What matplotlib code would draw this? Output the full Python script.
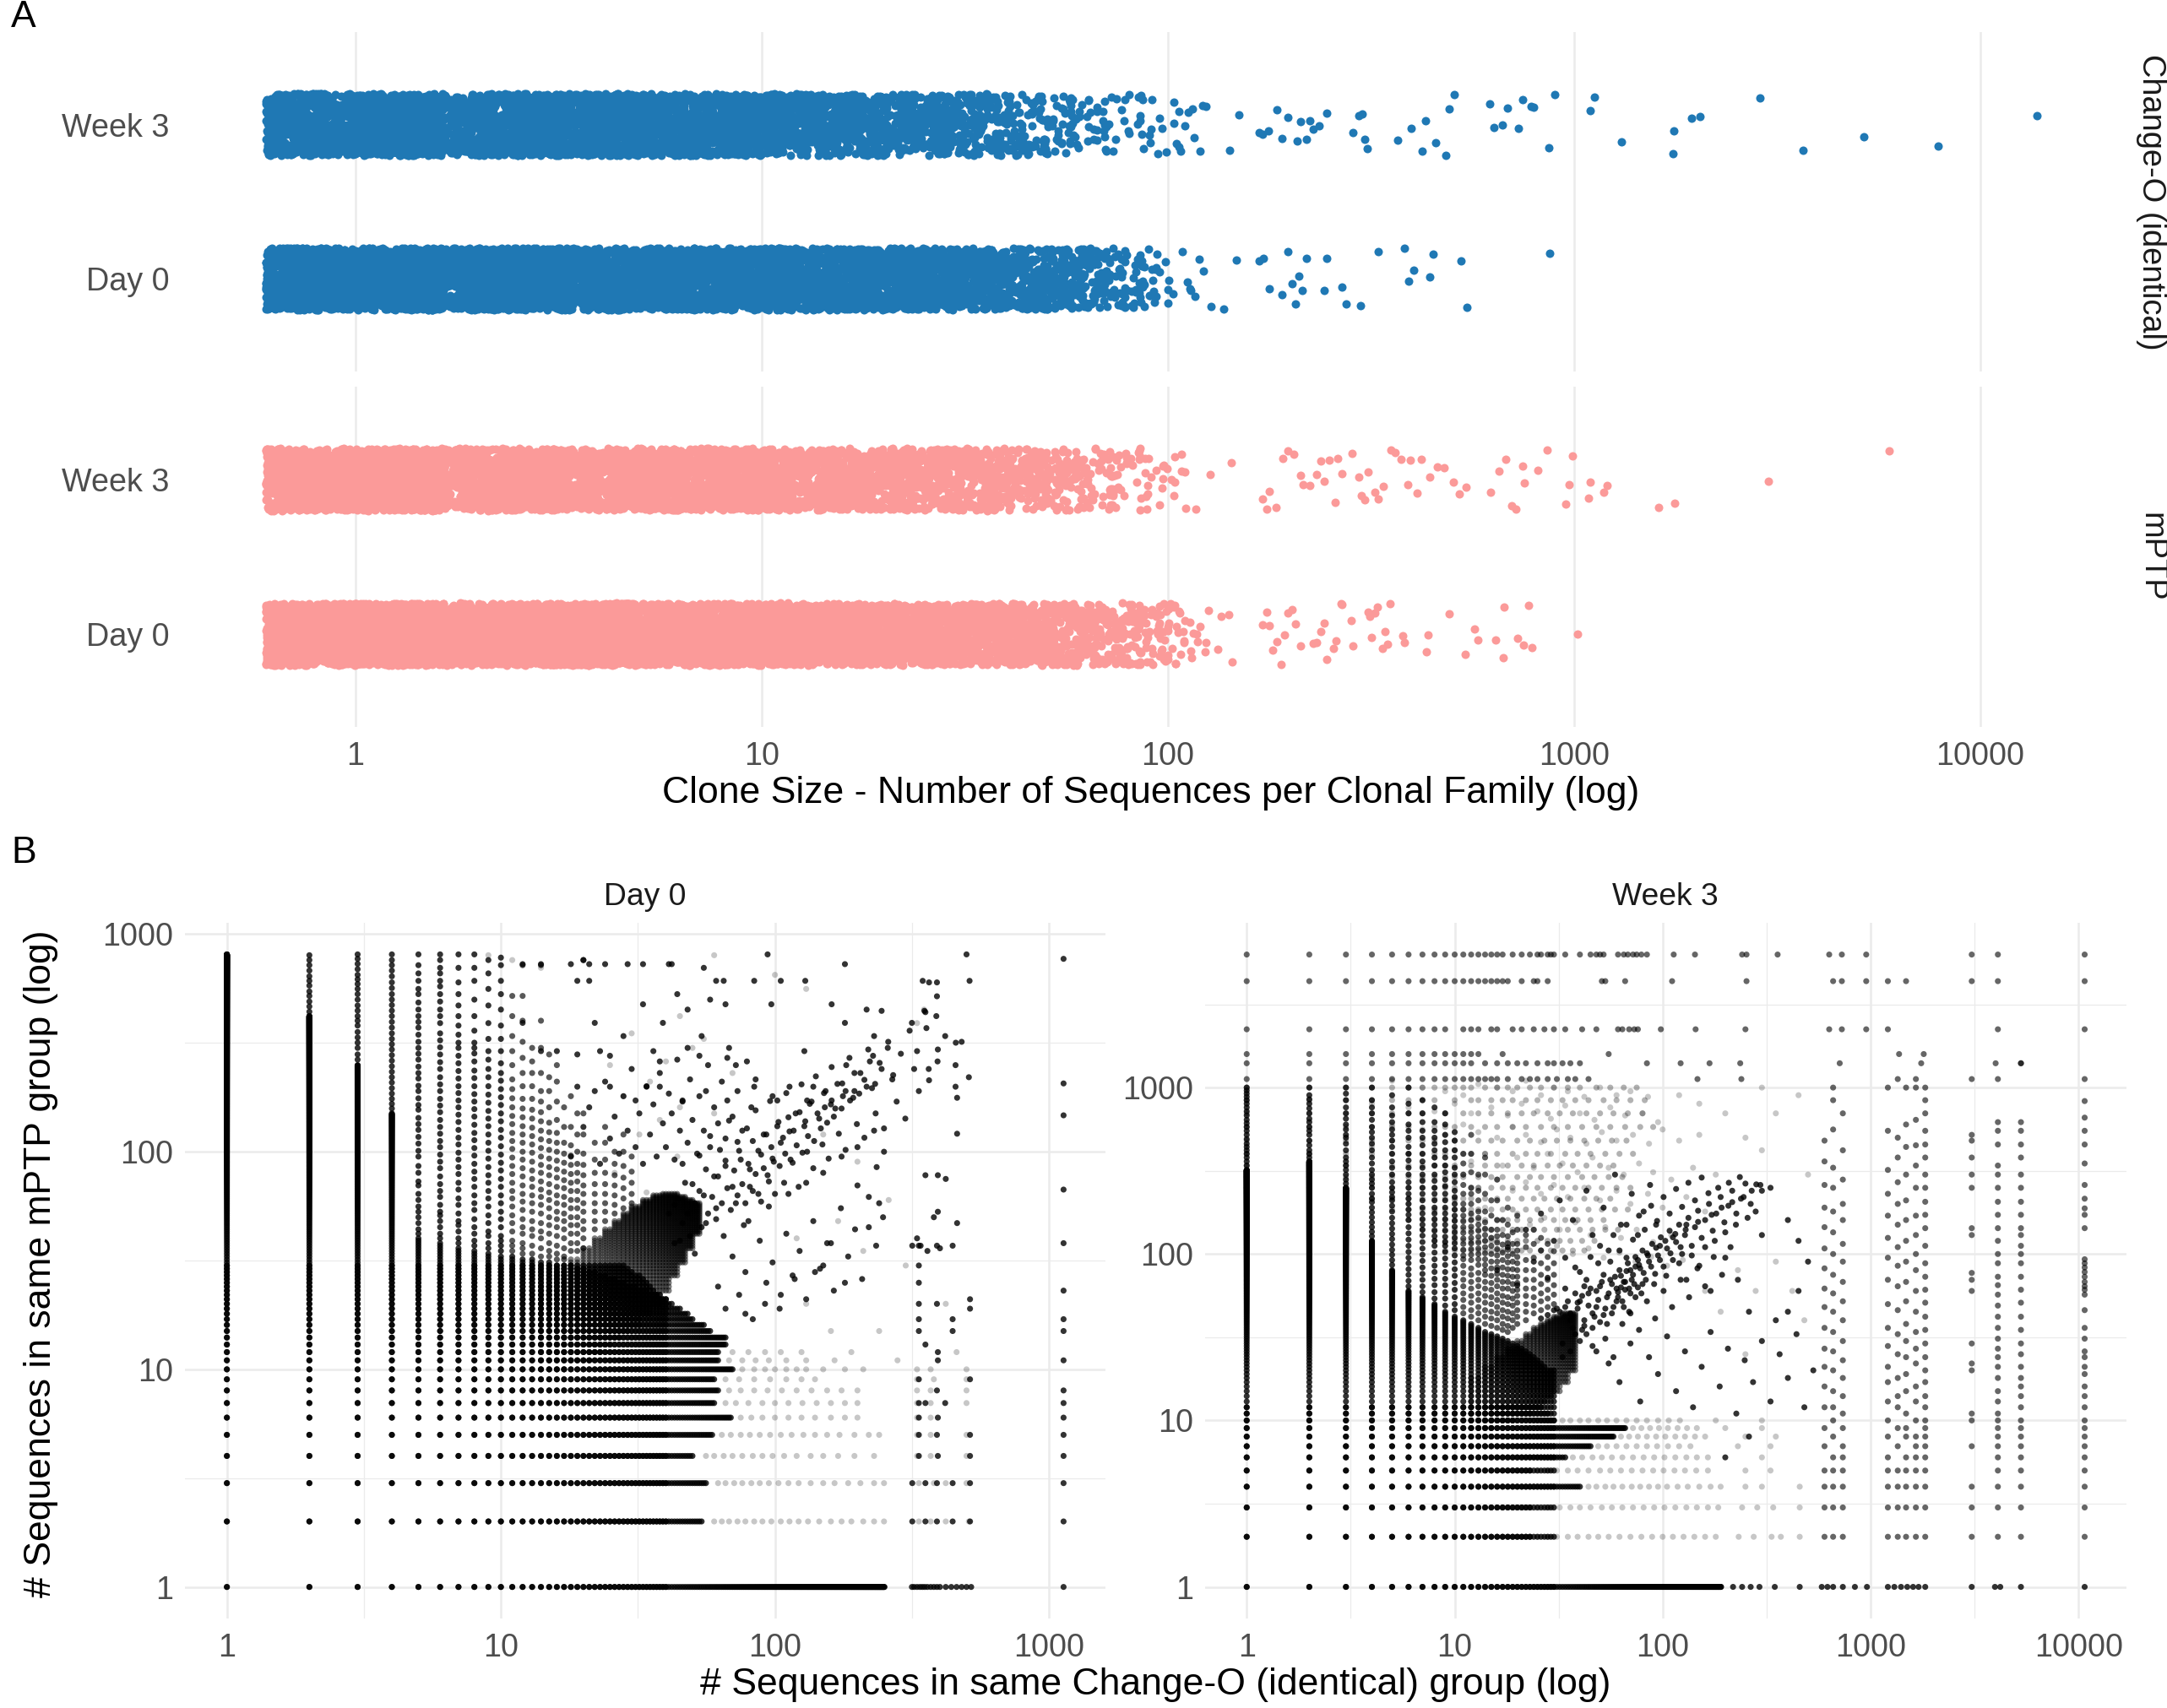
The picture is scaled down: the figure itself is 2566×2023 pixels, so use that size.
import numpy as np
import matplotlib
matplotlib.use("Agg")
import matplotlib.pyplot as plt
from matplotlib.ticker import FixedLocator, NullLocator, NullFormatter

plt.rcParams["font.family"] = ["Liberation Sans", "DejaVu Sans"]

BLUE = "#1F78B4"
PINK = "#FB9A99"
GRID = "#EBEBEB"
TICK = "#4D4D4D"

# ---------------- panel A: clone sizes ----------------
# number of clonal families with size 1..100 (estimated), then the read-off tail
sizes = np.arange(1, 101)
cho_w3_counts = [1500, 760, 480, 350, 270, 220, 180, 150, 120, 100,
                 86, 76, 68, 62, 58, 54, 51, 48, 46, 43,
                 41, 40, 38, 36, 35, 33, 32, 31, 30, 29,
                 22, 19, 17, 15, 13, 12, 11, 10, 9, 8,
                 8, 7, 7, 6, 6, 5, 5, 5, 4, 4,
                 4, 4, 3, 3, 3, 3, 3, 2, 2, 2,
                 3, 3, 3, 2, 2, 2, 2, 2, 2, 2,
                 2, 2, 2, 2, 1, 2, 1, 2, 1, 1,
                 1, 1, 1, 1, 1, 1, 1, 1, 1, 1,
                 1, 1, 1, 1, 1, 1, 1, 1, 1, 1]
cho_d0_counts = [2000, 1000, 640, 460, 360, 290, 240, 200, 170, 150,
                 130, 115, 100, 92, 85, 78, 72, 67, 63, 59,
                 56, 53, 50, 48, 46, 44, 42, 40, 39, 37,
                 35, 34, 33, 32, 31, 30, 29, 28, 27, 26,
                 25, 24, 23, 22, 21, 20, 19, 18, 17, 17,
                 15, 13, 12, 11, 10, 9, 8, 8, 7, 7,
                 6, 6, 5, 5, 5, 4, 4, 4, 4, 3,
                 3, 3, 3, 3, 2, 2, 2, 2, 2, 2,
                 2, 2, 1, 2, 1, 1, 2, 1, 1, 1,
                 1, 1, 1, 1, 1, 1, 0, 1, 1, 1]
mptp_w3_counts = [1700, 850, 540, 400, 310, 250, 205, 172, 146, 125,
                  108, 95, 85, 77, 70, 64, 59, 55, 51, 48,
                  45, 42, 40, 38, 36, 34, 33, 31, 30, 29,
                  28, 27, 26, 25, 25, 24, 23, 20, 18, 16,
                  15, 14, 13, 12, 11, 10, 9, 9, 8, 8,
                  7, 7, 6, 6, 6, 5, 5, 5, 4, 4,
                  4, 4, 4, 3, 3, 3, 3, 3, 3, 3,
                  2, 2, 2, 2, 2, 2, 2, 2, 2, 2,
                  2, 2, 1, 2, 1, 2, 1, 2, 1, 1,
                  1, 1, 1, 1, 1, 1, 1, 1, 1, 1]
mptp_d0_counts = [2300, 1150, 740, 540, 420, 340, 285, 240, 205, 180,
                  155, 138, 124, 112, 102, 94, 87, 81, 76, 71,
                  67, 63, 60, 57, 54, 51, 49, 47, 45, 43,
                  41, 40, 38, 37, 36, 35, 34, 33, 32, 31,
                  30, 29, 28, 27, 26, 25, 25, 24, 23, 22,
                  21, 21, 20, 19, 18, 18, 17, 16, 15, 15,
                  14, 13, 12, 11, 10, 9, 8, 8, 7, 7,
                  6, 6, 5, 5, 5, 4, 4, 4, 4, 3,
                  3, 3, 3, 3, 2, 2, 2, 2, 2, 2,
                  2, 2, 1, 2, 1, 1, 2, 1, 1, 1]

cho_w3_tail = [168, 171, 177, 186, 191, 198, 208, 212, 219, 224, 228, 236, 246,
               285, 295, 301, 305, 310, 368, 398, 422, 431, 457, 484, 494, 508,
               620, 635, 665, 687, 731, 746, 784, 794, 869, 895, 1095, 1122,
               1307, 1753, 1761, 1951, 2042, 2864, 3666, 5166, 7870, 13800]
cho_d0_tail = [168, 172, 178, 191, 198, 202, 206, 210, 214, 219, 243, 246, 269,
               275, 298, 329, 383, 391, 404, 442, 451, 527, 545, 871]
mptp_w3_tail = [171, 178, 192, 204, 212, 224, 232, 243, 250, 258, 269, 284, 295,
                305, 311, 323, 340, 355, 362, 375, 396, 410, 420, 442, 460, 479,
                506, 521, 543, 622, 653, 680, 703, 718, 749, 755, 814, 859, 954,
                975, 990, 1086, 1095, 1184, 1205, 1617, 1772, 3012, 5965,
                175, 185, 198, 215, 238, 262, 300, 330, 390]
mptp_d0_tail = [171, 175, 178, 181, 186, 190, 194, 198, 202, 206, 212, 228, 233,
                238, 243, 246, 256, 260, 267, 269, 283, 286, 311, 314, 318, 324,
                328, 337, 342, 348, 352, 378, 383, 433, 438, 494, 539, 570, 580,
                641, 669, 673, 725, 752, 773, 787, 1022]

row_labels = ["Day 0", "Week 3"]

# ---------------- panel B: Day 0 (Change-O size x, mPTP size y) ----------------
d0_col_top = [807, 420, 250, 150, 40, 38, 36, 35, 34, 33,
              33, 32, 32, 31, 31, 30, 30, 30, 29, 29,
              28, 28, 27, 27, 26, 26, 25, 25, 24, 24,
              24, 23, 23, 23, 22, 22, 22, 21, 21, 21]
d0_col_extra = {
    2: [440, 465, 490, 520, 545, 580, 610, 640, 680, 720, 760, 800],
    3: [265, 280, 300, 317, 335, 355, 380, 400, 420, 445, 470, 500, 530, 560, 590, 620, 650, 690, 730, 770, 807],
    4: [158, 166, 175, 185, 196, 208, 220, 233, 247, 262, 278, 295, 312, 330, 350, 372, 395, 420, 445,
        472, 500, 530, 565, 600, 640, 680, 720, 760, 807],
    5: [42, 44, 47, 50, 53, 56, 60, 64, 70, 73, 80, 86, 95, 101, 109, 117, 126, 134, 143, 156, 164, 176,
        190, 201, 217, 230, 246, 265, 282, 300, 320, 345, 372, 395, 420, 450, 485, 530, 560, 610, 660, 720, 807],
    6: [40, 42, 45, 48, 51, 53, 57, 62, 66, 71, 77, 84, 90, 97, 105, 112, 121, 130, 140, 152, 163, 175,
        190, 204, 220, 240, 258, 280, 302, 325, 350, 390, 420, 450, 490, 530, 575, 610, 660, 700, 760, 807],
    7: [38, 40, 43, 46, 48, 52, 57, 61, 67, 72, 79, 85, 92, 99, 108, 116, 126, 137, 148, 160, 172, 186,
        200, 217, 235, 255, 276, 300, 317, 345, 380, 420, 470, 530, 600, 700, 807],
    8: [37, 39, 42, 45, 49, 54, 58, 63, 69, 75, 81, 88, 96, 104, 113, 122, 133, 145, 157, 170, 184, 200,
        218, 236, 260, 283, 300, 317, 360, 420, 500, 610, 700, 807],
    9: [36, 38, 41, 43, 47, 51, 56, 61, 66, 72, 78, 85, 93, 101, 110, 120, 131, 142, 154, 168, 183, 200,
        220, 240, 265, 290, 330, 390, 470, 560, 660, 760],
    10: [35, 37, 39, 41, 45, 49, 53, 58, 63, 69, 75, 82, 89, 97, 106, 116, 126, 138, 150, 164, 178, 194,
         212, 230, 255, 290, 330, 380, 450, 530, 610, 720, 780],
    11: [35, 37, 39, 43, 47, 51, 56, 61, 66, 72, 79, 86, 94, 103, 112, 122, 134, 146, 160, 176, 194, 215,
         250, 290, 340, 420, 520],
    12: [34, 36, 38, 42, 45, 49, 54, 59, 64, 70, 77, 84, 92, 100, 110, 120, 131, 144, 158, 175, 200, 230,
         270, 320, 400, 520, 720],
    13: [34, 37, 41, 44, 48, 53, 58, 63, 69, 75, 82, 90, 99, 108, 118, 129, 142, 156, 175, 200, 230, 260, 300],
    14: [33, 36, 40, 43, 47, 52, 57, 62, 67, 73, 80, 87, 95, 104, 114, 125, 138, 152, 170, 190, 230, 300, 400, 720],
    15: [33, 35, 38, 42, 46, 50, 55, 60, 65, 71, 78, 85, 93, 102, 112, 123, 136, 160, 190, 220, 280],
    16: [32, 34, 37, 41, 45, 49, 53, 58, 63, 69, 76, 83, 91, 100, 110, 122, 140, 170, 210, 250],
    17: [32, 33, 36, 40, 44, 48, 52, 57, 62, 68, 74, 81, 89, 98, 110, 130, 160],
    18: [35, 38, 42, 46, 50, 55, 60, 66, 72, 79, 87, 96, 107, 130, 180],
    19: [35, 38, 42, 46, 50, 55, 60, 66, 73, 80, 88, 100, 120, 150],
    20: [36, 40, 44, 48, 53, 58, 64, 70, 78, 87, 98, 120, 150, 760],
    22: [44, 48, 53, 58, 64, 71, 80, 92, 110],
    24: [48, 53, 58, 64, 71, 80, 92, 110, 130],
    26: [52, 57, 63, 70, 78, 88, 100],
    28: [55, 61, 68, 76, 86, 100, 120],
    30: [58, 64, 72, 81, 95],
}
d0_row_end = [251, 54, 56, 50, 59, 69, 60, 62, 60, 70,
              62, 62, 66, 66, 58, 55, 50, 48, 45, 42,
              40, 38, 36, 35, 34, 33, 32, 30, 29, 28]
d0_row_extra = {
    2: [60, 64, 68, 73, 78, 84, 90, 97, 105, 113, 122, 132, 145, 160, 175, 190, 210, 230, 250, 335, 370, 420, 510],
    3: [62, 66, 71, 76, 82, 88, 95, 103, 112, 122, 135, 150, 165, 185, 205, 230, 250, 335, 380, 420, 500],
    4: [56, 60, 65, 70, 76, 83, 90, 98, 108, 120, 135, 150, 170, 195, 230, 330, 370, 500],
    5: [64, 69, 75, 81, 88, 96, 105, 115, 127, 140, 155, 172, 195, 220, 240, 330, 370, 500],
    6: [75, 82, 90, 100, 112, 125, 140, 160, 180, 200, 330, 370],
    7: [66, 72, 80, 90, 100, 112, 126, 142, 160, 180, 200, 330, 370, 500],
    8: [68, 75, 84, 94, 106, 120, 136, 155, 175, 200, 330, 370, 500],
    9: [66, 74, 84, 96, 110, 125, 140, 330, 500],
    10: [76, 84, 92, 100, 110, 120, 130, 150, 180, 210, 330, 370, 500],
    11: [68, 76, 85, 95, 110, 130, 165],
    12: [70, 80, 92, 105, 125],
}
# dense core: (x from, x to, y from, y to), every integer pair inside is present
d0_blocks = [(14, 15, 10, 24), (16, 17, 10, 28), (18, 19, 11, 32), (20, 21, 11, 36),
             (22, 23, 12, 40), (24, 25, 13, 44), (26, 27, 14, 48), (28, 29, 15, 52),
             (30, 32, 16, 56), (33, 35, 18, 60), (36, 38, 20, 63), (39, 41, 23, 64),
             (42, 44, 27, 64), (45, 47, 31, 62), (48, 50, 36, 60), (51, 53, 42, 58)]
d0_cloud = [
    (12, 728), (14, 728), (18, 728), (20, 760), (21, 728), (24, 728), (29, 728), (33, 728),
    (41, 728), (42, 728), (55, 700), (94, 807), (180, 728), (500, 807),
    (19, 610), (21, 610), (61, 610), (65, 610), (84, 610), (105, 610), (129, 610),
    (346, 610), (365, 600), (390, 600), (513, 610),
    (44, 530), (58, 500), (66, 476), (33, 476), (48, 450), (97, 476), (161, 476), (216, 450),
    (245, 444), (351, 444), (388, 420), (390, 518), (354, 438),
    (12, 391), (22, 391), (28, 340), (39, 391), (54, 340), (180, 391), (230, 340), (316, 391),
    (357, 370), (418, 340), (457, 317), (393, 295),
    (14, 290), (16, 290), (19, 280), (23, 290), (25, 276), (36, 290), (38, 260), (48, 300),
    (53, 276), (67, 270), (72, 250), (128, 290), (182, 250), (228, 276), (364, 240), (392, 260), (456, 250),
    (19, 199), (22, 190), (25, 199), (31, 172), (34, 199), (38, 199), (46, 172), (56, 190), (67, 172),
    (84, 199), (98, 180), (102, 172), (113, 199), (131, 172), (138, 199), (152, 160), (161, 172),
    (177, 180), (195, 190), (216, 199), (456, 199), (365, 213), (462, 177), (462, 121),
    (41, 52), (43, 38), (44, 61), (46, 47), (47, 72), (49, 41), (51, 58), (53, 66), (54, 45), (56, 83),
    (57, 52), (59, 62), (61, 49), (62, 77), (64, 58), (66, 91), (67, 68), (69, 54), (71, 82), (73, 63),
    (74, 101), (76, 71), (78, 58), (80, 88), (81, 69), (83, 112), (85, 79), (87, 64), (89, 97), (91, 84),
    (93, 120), (95, 73), (97, 105), (99, 90), (102, 131), (104, 86), (107, 116), (109, 98), (112, 144),
    (114, 92), (117, 125), (120, 107), (123, 152), (126, 99), (129, 138), (132, 118), (136, 170),
    (139, 112), (143, 150), (147, 128), (151, 186), (155, 136), (160, 165), (164, 145), (169, 205),
    (175, 158), (181, 190), (188, 172), (195, 230), (203, 185), (212, 214), (222, 260), (232, 205),
    (245, 240), (258, 300), (270, 225),
    (43, 57), (45, 39), (46, 88), (48, 52), (50, 71), (51, 34), (53, 96), (55, 63), (56, 47), (58, 118),
    (60, 77), (61, 55), (63, 102), (65, 41), (66, 86), (68, 139), (70, 69), (72, 58), (73, 111), (75, 92),
    (77, 46), (79, 128), (81, 83), (83, 66), (85, 155), (87, 101), (89, 59), (91, 120), (94, 78),
    (96, 171), (98, 93), (100, 64), (103, 137), (105, 110), (108, 72), (110, 186), (113, 124), (116, 89),
    (119, 150), (122, 69), (125, 204), (128, 131), (131, 100), (134, 166), (138, 84), (141, 222),
    (145, 142), (149, 108), (153, 190), (157, 93), (161, 245), (166, 158), (171, 121), (176, 206),
    (181, 102), (187, 270), (193, 177), (199, 134), (205, 230), (212, 116), (219, 295), (226, 196),
    (233, 150), (241, 256), (250, 128), (259, 320), (268, 215), (278, 170), (288, 282), (299, 142),
    (310, 360), (322, 240), (335, 190),
    (18, 95), (20, 130), (21, 160), (23, 88), (24, 210), (25, 115), (26, 145), (27, 98), (28, 180),
    (29, 125), (30, 240), (31, 105), (32, 150), (33, 88), (34, 200), (35, 120), (36, 165), (37, 95),
    (38, 230), (39, 135), (40, 105), (41, 185), (42, 150), (43, 92), (44, 265), (45, 125), (46, 170),
    (48, 110), (49, 215), (50, 140), (52, 98), (53, 180), (55, 125), (57, 250), (58, 105), (60, 160),
    (62, 135), (64, 210), (66, 115), (68, 300), (70, 145), (73, 190), (76, 125), (79, 260), (82, 160),
    (85, 215),
    (62, 24), (66, 19), (70, 33), (74, 22), (78, 28), (83, 17), (88, 39), (93, 25), (98, 31), (104, 19),
    (110, 42), (116, 27), (123, 35), (130, 21), (138, 48), (146, 29), (155, 38), (164, 23), (174, 55),
    (185, 33), (196, 44), (208, 26), (220, 62), (234, 37), (248, 50), (80, 48), (95, 56), (112, 64),
    (130, 72), (150, 80), (175, 95), (200, 105), (230, 125),
    (150, 30), (160, 38), (200, 70), (220, 45), (180, 25), (140, 28), (240, 58), (118, 26), (105, 22),
    (92, 20), (78, 18), (250, 100), (235, 85), (330, 40), (340, 37), (360, 35), (380, 50), (400, 36),
    (420, 75), (330, 290), (480, 320), (510, 220),
    (354, 78), (393, 78), (393, 53), (462, 47), (317, 37), (335, 37), (390, 37), (445, 37),
    (335, 30), (335, 25), (515, 21), (335, 20), (390, 20), (515, 19), (335, 17), (445, 17),
    (335, 15), (445, 15), (354, 13), (393, 12), (393, 11), (335, 9), (515, 9), (390, 8),
    (335, 7), (354, 7), (418, 7), (335, 6), (393, 6), (335, 5), (390, 5), (515, 5),
    (335, 4), (393, 4), (515, 4), (317, 3), (354, 3), (390, 3), (445, 3), (515, 3),
    (317, 2), (354, 2), (390, 2), (445, 2), (515, 2),
]
d0_cloud_light = [
    (9, 800), (11, 760), (14, 700), (60, 800), (100, 650), (330, 390), (350, 450), (130, 560),
    (45, 420), (30, 350), (50, 300), (25, 250), (70, 230), (35, 210), (28, 180), (45, 160),
    (60, 150), (55, 330), (40, 260), (150, 120), (200, 90), (260, 60), (300, 30), (420, 20),
    (460, 12), (240, 15), (280, 11), (380, 9), (32, 120), (38, 140), (44, 95), (26, 80),
    (34, 65), (120, 40), (170, 48), (210, 35), (130, 20), (160, 15), (190, 12),
]
d0_row1_far = [316, 322, 330, 338, 345, 352, 360, 370, 380, 390, 400, 420, 440, 460, 480, 500, 520, 1130]
d0_far_col = {1130: [2, 3, 4, 5, 6, 7, 8, 11, 15, 17, 23, 38, 67, 147, 206, 770]}

# ---------------- panel B: Week 3 ----------------
w3_col_top = [320, 360, 250, 120, 80, 60, 55, 50, 45, 42,
              40, 38, 36, 34, 33, 32, 31, 30, 29, 28,
              27, 26, 25, 24, 23, 22, 21, 20, 20, 20]
w3_col_extra = {
    1: [340, 360, 380, 400, 420, 440, 460, 490, 520, 550, 580, 610, 640, 680, 720, 760, 800, 840, 880, 920, 960, 1000],
    2: [380, 400, 420, 450, 480, 520, 550, 580, 620, 650, 700, 750, 800, 850, 900, 1000],
    3: [265, 280, 300, 320, 340, 360, 380, 420, 460, 500, 520, 560, 600, 650, 700, 760, 840, 920, 1000],
    4: [128, 136, 145, 155, 166, 178, 190, 205, 215, 230, 250, 265, 280, 300, 320, 350, 380, 420, 460,
        500, 540, 580, 640, 700, 760, 840, 1000],
    5: [86, 92, 99, 106, 114, 123, 132, 142, 153, 165, 180, 195, 210, 220, 235, 250, 270, 300, 330,
        360, 400, 440, 480, 520, 560, 620, 680, 760, 900],
    6: [64, 69, 75, 81, 88, 95, 103, 112, 122, 133, 145, 160, 172, 185, 200, 215, 230, 250, 270, 300,
        330, 365, 400, 440, 500, 550, 600, 700, 800, 1000],
    7: [59, 64, 70, 76, 83, 91, 99, 108, 118, 129, 140, 150, 162, 175, 190, 210, 230, 250, 275, 300,
        330, 360, 400, 450, 500, 550, 620, 700, 840],
    8: [54, 59, 65, 71, 78, 85, 93, 102, 112, 120, 128, 138, 150, 162, 175, 190, 210, 230, 250, 275,
        300, 340, 380, 420, 460, 500, 550, 620, 760],
    9: [49, 54, 59, 65, 71, 78, 86, 94, 103, 112, 118, 127, 138, 150, 162, 175, 190, 210, 230, 255,
        280, 310, 340, 380, 420, 470, 520, 600, 700],
    10: [46, 50, 55, 61, 67, 74, 81, 89, 98, 108, 116, 125, 135, 146, 158, 170, 185, 200, 220, 240,
         270, 300, 330, 380, 420, 480, 540],
    11: [44, 48, 53, 58, 64, 70, 77, 85, 93, 98, 106, 115, 124, 134, 145, 157, 170, 185, 200, 230, 260, 300, 350, 400],
    12: [42, 46, 51, 56, 62, 68, 75, 82, 92, 99, 107, 116, 125, 135, 146, 160, 175, 200, 230, 250, 310, 400, 520],
    13: [40, 44, 48, 53, 58, 64, 70, 77, 86, 93, 100, 108, 117, 127, 138, 150, 165, 180, 210, 240, 300],
    14: [38, 42, 46, 51, 56, 62, 68, 75, 80, 86, 93, 101, 110, 120, 130, 142, 155, 180, 230, 300, 380],
    15: [37, 41, 45, 50, 55, 61, 67, 74, 82, 90, 100, 112, 125, 140, 170, 210],
    16: [36, 40, 44, 48, 53, 58, 64, 70, 76, 83, 90, 98, 107, 117, 128, 140, 160, 210, 280],
    17: [35, 38, 42, 46, 51, 56, 62, 68, 75, 83, 92, 102, 114, 130, 160],
    18: [34, 37, 41, 45, 50, 55, 62, 68, 74, 81, 89, 97, 106, 116, 128, 150, 190],
    19: [36, 40, 44, 49, 54, 60, 66, 73, 81, 90, 100, 115, 135],
    20: [38, 42, 46, 51, 56, 61, 67, 73, 80, 88, 96, 105, 115, 140, 170],
    22: [40, 45, 50, 56, 62, 70, 80, 92, 110, 130],
    24: [44, 49, 55, 62, 70, 80, 95, 115, 140],
    26: [46, 52, 58, 66, 75, 88, 105, 125],
    28: [48, 54, 61, 70, 82, 96, 115],
    30: [50, 57, 65, 75, 88, 104],
}
w3_row_end = [191, 23, 23, 40, 23, 34, 45, 58, 66, 30, 28, 26]
w3_row_extra = {
    2: [25, 28, 31, 35, 39, 44, 49, 55, 62, 70, 79, 89, 100, 112, 126, 142, 160, 180, 232, 274, 334, 370, 456],
    3: [25, 28, 32, 36, 40, 45, 51, 57, 64, 72, 81, 91, 102, 115, 130, 146, 165, 185, 241, 285, 340, 456],
    4: [44, 48, 53, 58, 64, 71, 78, 86, 95, 105, 118, 132, 150, 170, 190, 250, 300, 456],
    5: [25, 28, 31, 35, 39, 44, 50, 56, 63, 71, 80, 90, 101, 114, 128, 145, 165, 250, 330],
    6: [37, 41, 46, 51, 57, 64, 72, 81, 91, 102, 115, 130, 146, 165, 300],
    7: [49, 54, 60, 67, 75, 84, 94, 106, 120, 136, 230, 330],
    8: [63, 69, 76, 84, 93, 103, 115, 128, 143, 160, 250, 350],
    9: [72, 79, 87, 96, 106, 118, 131, 146, 200, 300],
    10: [33, 36, 40, 44, 49, 54, 60, 67, 75, 84, 95, 107, 121, 180, 300],
}
w3_mid_rows = {
    1000: [1, 2, 3, 4, 5, 6, 7, 8, 9, 10, 11, 12, 14, 16, 18, 20, 23, 26, 30, 35, 40, 48, 56, 65, 75],
    840: [1, 2, 3, 4, 5, 6, 7, 8, 10, 12, 13, 15, 17, 19, 22, 25, 29, 33, 38, 44, 52, 60, 70, 82],
    700: [1, 2, 3, 4, 5, 6, 7, 9, 11, 13, 15, 18, 21, 24, 28, 32, 37, 43, 50, 58, 68, 80],
    580: [1, 2, 3, 4, 5, 6, 8, 9, 10, 12, 14, 16, 19, 22, 26, 30, 35, 41, 48, 56, 66, 78, 90],
    480: [1, 2, 3, 4, 5, 6, 7, 8, 10, 11, 13, 15, 17, 20, 23, 27, 31, 36, 42, 49, 57, 67],
    400: [1, 2, 3, 4, 5, 6, 7, 8, 9, 11, 12, 14, 16, 19, 22, 25, 29, 34, 39, 45, 53, 62, 72],
    340: [1, 2, 3, 5, 6, 7, 8, 9, 10, 12, 14, 16, 18, 21, 24, 28, 32, 37, 43, 50, 58],
    290: [1, 2, 3, 4, 5, 6, 7, 8, 9, 10, 11, 13, 15, 17, 20, 23, 26, 30, 35, 41, 47, 55, 64],
    250: [1, 2, 3, 4, 5, 6, 7, 8, 9, 10, 12, 13, 15, 17, 19, 22, 25, 29, 33, 38, 44, 51, 60, 70],
    215: [4, 5, 6, 7, 8, 9, 10, 11, 12, 14, 16, 18, 21, 24, 27, 31, 36, 42, 48, 56],
    185: [5, 6, 7, 8, 9, 10, 11, 12, 13, 15, 17, 19, 22, 25, 29, 33, 38, 44, 51, 59, 68],
    160: [6, 7, 8, 9, 10, 11, 12, 13, 14, 16, 18, 20, 23, 26, 30, 34, 39, 45, 52],
    140: [7, 8, 9, 10, 11, 12, 13, 14, 15, 17, 19, 21, 24, 27, 31, 35, 40, 46, 53, 61],
    120: [8, 9, 10, 11, 12, 13, 14, 15, 16, 18, 20, 22, 25, 28, 32, 36, 41, 47],
    105: [9, 10, 11, 12, 13, 14, 15, 16, 17, 19, 21, 23, 26, 29, 33, 37, 42],
}
w3_row1_far = [218, 241, 265, 292, 346, 456, 582, 620, 660, 735, 840, 960, 1210,
               1300, 1400, 1500, 1600, 1700, 1830, 3062, 3960, 4200, 5280, 10690]
w3_big_cols = {
    10690: [2, 3, 4, 5, 6, 7, 8, 9, 10, 12, 14, 16, 19, 21, 24, 26, 31, 36, 46, 57, 61, 64, 68,
            73, 78, 83, 88, 93, 143, 172, 188, 215, 260, 350, 455, 550, 660, 830, 1125],
    5280: [2, 3, 4, 5, 6, 7, 8, 9, 10, 12, 14, 16, 18, 21, 25, 29, 35, 42, 51, 61, 73, 88, 100,
           112, 130, 143, 172, 206, 250, 300, 380, 455, 550, 620, 1400],
    4090: [2, 3, 4, 5, 6, 7, 8, 9, 10, 11, 13, 15, 18, 21, 24, 27, 31, 36, 42, 49, 57, 65, 73,
           88, 100, 120, 143, 172, 206, 250, 300, 340, 455, 550, 620, 1125],
    3062: [2, 3, 4, 7, 10, 11, 20, 22, 29, 60, 70, 77, 130, 143, 250, 300, 380, 480, 520, 1125],
    1830: [2, 3, 4, 5, 6, 7, 8, 9, 10, 12, 14, 17, 20, 24, 29, 35, 42, 51, 61, 73, 88, 112, 143,
           172, 206, 250, 300, 380, 455, 550, 700, 840, 1000],
    1650: [2, 3, 4, 5, 6, 7, 8, 10, 13, 16, 22, 27, 34, 45, 60, 80, 100, 130, 170, 250, 340, 450, 640, 1000, 1125],
    1480: [2, 3, 4, 5, 6, 8, 9, 11, 15, 19, 24, 30, 38, 52, 68, 90, 120, 160, 210, 300, 440, 600, 1000],
    1350: [2, 3, 4, 5, 7, 9, 12, 14, 18, 25, 33, 46, 64, 85, 110, 150, 200, 270, 380, 500, 1125],
    1210: [2, 3, 4, 5, 6, 8, 10, 13, 17, 21, 28, 36, 50, 70, 95, 125, 170, 230, 320, 550, 1000],
    735: [2, 3, 4, 5, 6, 7, 9, 11, 14, 18, 23, 30, 40, 52, 68, 90, 115, 160, 200, 280, 420, 700],
    660: [2, 3, 4, 5, 6, 8, 10, 12, 15, 20, 26, 34, 45, 58, 75, 100, 135, 180, 250, 330, 560, 840, 1000],
    600: [2, 3, 4, 5, 7, 9, 12, 16, 21, 27, 36, 48, 62, 82, 108, 145, 190, 260, 360, 480],
}
w3_top_rows = {
    6300: [1, 2, 3, 4, 5, 6, 7, 8, 9, 10, 11, 12, 13, 14, 15, 16, 17, 19, 21, 23, 25, 26, 28, 29, 30,
           34, 40, 45, 48, 50, 52, 61, 65, 68, 72, 75, 79, 84, 113, 143, 241, 253, 357, 632, 727,
           952, 3062, 4090, 10690],
    4360: [1, 2, 3, 4, 5, 6, 7, 8, 9, 10, 11, 12, 13, 14, 15, 16, 17, 18, 21, 24, 25, 28, 51, 53,
           66, 111, 253, 660, 727, 952, 1210, 1480, 3062, 4090, 10690],
    2240: [1, 2, 3, 4, 5, 6, 7, 8, 9, 11, 12, 13, 15, 16, 19, 21, 24, 27, 30, 34, 41, 48, 61, 64,
           69, 73, 76, 98, 144, 250, 632, 727, 952, 1210, 4090, 10690],
    1590: [1, 2, 3, 4, 5, 6, 7, 8, 9, 10, 11, 12, 13, 17, 55, 1370, 1800],
    1400: [1, 2, 3, 4, 5, 6, 7, 8, 9, 10, 11, 12, 14, 16, 18, 20, 22, 25, 28, 30, 33, 36, 40, 84,
           122, 168, 236, 710, 1750, 3990, 5280],
    1125: [1, 2, 3, 4, 5, 6, 7, 8, 9, 10, 11, 12, 13, 14, 15, 16, 18, 21, 23, 25, 28, 31, 35, 38,
           44, 147, 239],
}
w3_blocks = [(12, 13, 9, 18), (14, 15, 9, 21), (16, 17, 10, 24), (18, 19, 10, 27), (20, 21, 11, 30),
             (22, 23, 11, 33), (24, 25, 12, 36), (26, 27, 13, 38), (28, 29, 14, 40), (30, 32, 15, 42),
             (33, 35, 17, 44), (36, 38, 20, 44)]
w3_cloud = [
    (36, 44), (38, 33), (40, 52), (42, 40), (44, 58), (46, 36), (48, 48), (50, 64), (52, 43), (54, 55),
    (56, 70), (58, 48), (60, 62), (62, 80), (64, 52), (66, 68), (68, 88), (70, 58), (72, 75), (74, 96),
    (76, 63), (78, 82), (80, 105), (83, 70), (86, 90), (89, 115), (92, 76), (95, 98), (98, 126),
    (101, 84), (105, 108), (108, 138), (112, 92), (116, 118), (120, 150), (124, 100), (128, 130),
    (133, 165), (138, 112), (143, 145), (148, 182), (154, 125), (160, 160), (167, 200), (174, 138),
    (181, 175), (190, 220), (198, 155), (207, 195), (216, 240), (226, 175), (238, 215), (250, 265),
    (265, 200), (282, 262), (300, 240),
    (31, 47), (33, 29), (34, 62), (36, 40), (38, 83), (39, 51), (41, 35), (43, 70), (45, 96), (46, 44),
    (48, 60), (50, 112), (52, 75), (54, 38), (56, 90), (58, 130), (60, 52), (62, 105), (65, 68),
    (67, 150), (69, 45), (72, 122), (74, 84), (77, 170), (79, 58), (82, 140), (85, 98), (88, 195),
    (91, 66), (94, 158), (97, 112), (101, 220), (104, 74), (108, 175), (112, 126), (116, 246),
    (120, 88), (124, 192), (129, 140), (133, 268), (138, 98), (143, 210), (148, 156), (154, 288),
    (160, 110), (166, 232), (172, 172), (178, 120), (185, 250), (192, 190), (200, 135), (208, 268),
    (216, 205), (225, 150), (235, 290), (245, 220), (256, 165), (268, 240), (280, 180), (295, 260),
    (16, 80), (18, 110), (20, 65), (22, 140), (24, 90), (26, 175), (28, 72), (30, 120), (32, 210),
    (34, 95), (37, 160), (40, 78), (43, 240), (46, 130), (49, 88), (52, 190), (55, 105), (59, 300),
    (63, 150), (67, 95), (71, 230), (76, 130), (81, 180), (87, 260), (93, 150),
    (55, 22), (62, 17), (70, 29), (78, 13), (86, 24), (95, 19), (105, 32), (116, 15), (128, 26),
    (140, 12), (154, 21), (170, 34), (188, 16), (206, 27), (226, 11), (248, 23), (272, 17), (300, 30),
    (330, 13), (365, 25), (400, 18), (440, 33), (480, 12), (530, 20),
    (48, 26), (53, 31), (58, 24), (64, 38), (70, 44), (77, 35), (84, 52), (92, 41), (101, 60),
    (111, 48), (122, 70), (134, 55), (147, 82), (160, 64), (176, 96), (193, 75), (212, 110),
    (330, 250), (400, 160), (450, 120), (500, 90), (300, 130), (260, 8), (200, 6), (350, 40),
    (400, 45), (450, 60), (260, 45), (230, 70), (200, 95), (170, 60), (150, 85), (130, 70),
    (57, 66), (61, 59), (63, 74), (66, 61), (70, 80), (73, 66), (76, 92), (81, 77), (84, 101),
    (88, 84), (93, 109), (97, 92), (103, 120), (109, 101), (115, 132), (122, 110), (130, 150),
    (39, 47), (41, 56), (42, 37), (44, 49), (45, 62), (47, 42), (49, 53), (50, 39), (51, 68),
    (53, 47), (55, 58), (57, 44), (59, 73), (61, 55), (63, 63), (65, 48), (67, 79), (69, 62),
    (71, 70), (74, 55), (77, 86), (80, 66), (40, 30), (43, 33), (46, 28), (37, 36), (34, 48),
    (32, 45), (35, 52), (38, 58), (42, 64), (36, 26), (33, 24), (30, 46), (28, 43), (26, 41),
]
w3_cloud_light = [
    (5, 1100), (7, 1000), (9, 950), (11, 900), (13, 1050), (16, 1000), (19, 950), (22, 1100), (26, 900),
    (30, 1000), (35, 950), (42, 880), (50, 1000), (60, 900), (70, 950), (85, 880),
    (4, 800), (6, 760), (8, 720), (10, 800), (12, 700), (15, 760), (18, 680), (21, 800), (25, 720),
    (29, 650), (34, 780), (40, 700), (47, 640), (56, 760), (66, 680), (80, 700), (95, 620),
    (5, 600), (7, 560), (9, 520), (11, 600), (13, 540), (16, 500), (19, 580), (22, 520), (26, 470),
    (31, 560), (36, 500), (43, 460), (51, 540), (60, 480), (72, 520), (86, 460), (100, 560), (120, 480),
    (150, 520), (4, 440), (6, 400), (8, 380), (10, 420), (12, 360), (14, 400), (17, 340), (20, 380),
    (24, 330), (28, 400), (33, 350), (39, 310), (46, 380), (55, 330), (65, 300), (77, 350), (90, 310),
    (110, 280), (140, 330), (180, 300), (5, 300), (7, 280), (9, 260), (11, 300), (13, 250), (16, 280),
    (19, 240), (22, 270), (26, 230), (30, 260), (35, 220), (42, 250), (50, 210), (60, 240), (70, 200),
    (85, 230), (100, 190), (130, 220), (160, 180), (6, 200), (8, 180), (10, 210), (12, 170), (14, 190),
    (17, 160), (20, 175), (23, 150), (27, 165), (32, 140), (38, 155), (45, 130), (53, 145), (63, 125),
    (75, 140), (90, 118), (110, 130), (10, 130), (12, 115), (15, 125), (18, 110), (22, 120), (26, 105),
    (31, 112), (37, 100), (44, 108), (52, 95), (62, 102), (74, 90), (88, 96), (105, 85), (125, 92),
    (200, 700), (250, 500), (300, 420), (350, 700), (450, 900), (500, 300), (300, 1000), (150, 800),
    (120, 900), (160, 60), (190, 45), (230, 80), (280, 60), (350, 90), (420, 60), (480, 40), (250, 25),
]

DARK, MID, LIGHT = 0.8, 0.65, 0.22
COL_DARK = 0.8  # upper parts of the first ten columns


def hash01(n, start, k):
    # deterministic jitter offsets in [0, 1)
    i = np.arange(start, start + n, dtype=float)
    s = np.sin(i * 12.9898 + k * 78.233) * 43758.5453
    return s - np.floor(s)


def strip_row(ax, ypos, counts, tail, color, start):
    vals = np.repeat(sizes, counts)
    u = hash01(len(vals), start, 1)
    v = hash01(len(vals), start, 2)
    x = 10 ** (np.log10(vals) + (u * 2 - 1) * 0.22)
    y = ypos + (v * 2 - 1) * 0.2
    v2 = hash01(len(tail), start + 90001, 3)
    x = np.concatenate([x, np.asarray(tail, float)])
    y = np.concatenate([y, ypos + (v2 * 2 - 1) * 0.2])
    ax.scatter(x, y, s=13, color=color, linewidths=0, zorder=3)


def build_points(col_top, col_extra, row_end, row_extra, blocks, cloud, cloud_light, extra):
    xs, ys, al = [], [], []

    def add(x, y, a):
        x = np.asarray(x, float)
        y = np.asarray(y, float)
        xs.append(x)
        ys.append(y)
        al.append(np.full(len(x), a))

    for i, top in enumerate(col_top):
        yy = np.arange(1, top + 1)
        add(np.full(len(yy), i + 1), yy, DARK)
    for x, yy in col_extra.items():
        add([x] * len(yy), yy, COL_DARK if x <= 10 else MID)
    for i, end in enumerate(row_end):
        xx = np.arange(1, end + 1)
        add(xx, np.full(len(xx), i + 1), DARK)
    for y, xx in row_extra.items():
        add(xx, [y] * len(xx), LIGHT)
    for x0, x1, y0, y1 in blocks:
        gx, gy = np.meshgrid(np.arange(x0, x1 + 1), np.arange(y0, y1 + 1))
        add(gx.ravel(), gy.ravel(), 0.5)
    add([p[0] for p in cloud], [p[1] for p in cloud], DARK)
    add([p[0] for p in cloud_light], [p[1] for p in cloud_light], LIGHT)
    for (x, y, a) in extra:
        add(x, y, a)
    return np.concatenate(xs), np.concatenate(ys), np.concatenate(al)


W, H = 2566, 2023
fig = plt.figure(figsize=(W / 200, H / 200), dpi=200)


def fax(x0, y0, x1, y1):
    return fig.add_axes([x0 / W, 1 - y1 / H, (x1 - x0) / W, (y1 - y0) / H])


def style(ax):
    for s in ax.spines.values():
        s.set_visible(False)
    ax.tick_params(which="both", length=0, colors=TICK, labelsize=13.6)
    ax.set_axisbelow(True)


# ---- panel A ----
ax_top = fax(209, 38, 2518, 440)
ax_bot = fax(209, 458, 2518, 861)
strip_row(ax_top, 2, cho_w3_counts, cho_w3_tail, BLUE, 1)
strip_row(ax_top, 1, cho_d0_counts, cho_d0_tail, BLUE, 20001)
strip_row(ax_bot, 2, mptp_w3_counts, mptp_w3_tail, PINK, 40001)
strip_row(ax_bot, 1, mptp_d0_counts, mptp_d0_tail, PINK, 60001)
for ax in (ax_top, ax_bot):
    style(ax)
    ax.set_xscale("log")
    ax.set_xlim(10 ** -0.44, 10 ** 4.36)
    ax.set_ylim(0.4, 2.6)
    ax.set_xticks([1, 10, 100, 1000, 10000])
    ax.xaxis.set_minor_locator(NullLocator())
    ax.set_yticks([1, 2])
    ax.set_yticklabels(row_labels)
    ax.tick_params(axis="y", pad=3)
    ax.grid(axis="x", which="major", color=GRID, lw=0.9)
ax_top.set_xticklabels([])
ax_bot.set_xticklabels(["1", "10", "100", "1000", "10000"])
ax_bot.tick_params(axis="x", pad=6)

fig.text(2547 / W, 1 - 239 / H, "Change-O (identical)", rotation=-90, ha="center", va="center",
         fontsize=13.7, color="#1A1A1A")
fig.text(2547 / W, 1 - 660 / H, "mPTP", rotation=-90, ha="center", va="center",
         fontsize=13.7, color="#1A1A1A")
fig.text(1363 / W, 1 - 939 / H, "Clone Size - Number of Sequences per Clonal Family (log)",
         ha="center", va="center", fontsize=16)

# ---- panel B ----
ax_l = fax(219, 1093, 1309, 1917)
ax_r = fax(1427, 1093, 2518, 1917)

d0_extra = [(d0_row1_far, [1] * len(d0_row1_far), DARK)]
for x, yy in d0_far_col.items():
    d0_extra.append(([x] * len(yy), yy, DARK))
w3_extra = [(w3_row1_far, [1] * len(w3_row1_far), DARK)]
for x, yy in w3_big_cols.items():
    w3_extra.append(([x] * len(yy), yy, 0.6))
for y, xx in w3_top_rows.items():
    w3_extra.append((xx, [y] * len(xx), 0.6))
for y, xx in w3_mid_rows.items():
    w3_extra.append((xx, [y] * len(xx), 0.3))

bx, by, ba = build_points(d0_col_top, d0_col_extra, d0_row_end, d0_row_extra, d0_blocks,
                          d0_cloud, d0_cloud_light, d0_extra)
rgba = np.zeros((len(bx), 4))
rgba[:, 3] = ba
ax_l.scatter(bx, by, s=6.5, c=rgba, linewidths=0, zorder=3)

bx, by, ba = build_points(w3_col_top, w3_col_extra, w3_row_end, w3_row_extra, w3_blocks,
                          w3_cloud, w3_cloud_light, w3_extra)
rgba = np.zeros((len(bx), 4))
rgba[:, 3] = ba
ax_r.scatter(bx, by, s=6.5, c=rgba, linewidths=0, zorder=3)

for ax, xl, yl, xt in ((ax_l, (-0.153, 3.206), (-0.145, 3.052), [1, 10, 100, 1000]),
                       (ax_r, (-0.2, 4.23), (-0.19, 3.99), [1, 10, 100, 1000, 10000])):
    style(ax)
    ax.set_xscale("log")
    ax.set_yscale("log")
    ax.set_xlim(10 ** xl[0], 10 ** xl[1])
    ax.set_ylim(10 ** yl[0], 10 ** yl[1])
    ax.set_xticks(xt)
    ax.set_xticklabels([str(t) for t in xt])
    ax.set_yticks([1, 10, 100, 1000])
    ax.set_yticklabels(["1", "10", "100", "1000"])
    ax.xaxis.set_minor_locator(FixedLocator([10 ** (k + 0.5) for k in range(-1, 5)]))
    ax.yaxis.set_minor_locator(FixedLocator([10 ** (k + 0.5) for k in range(-1, 4)]))
    ax.xaxis.set_minor_formatter(NullFormatter())
    ax.yaxis.set_minor_formatter(NullFormatter())
    ax.grid(which="major", color=GRID, lw=0.9)
    ax.grid(which="minor", color=GRID, lw=0.45)
    ax.tick_params(axis="x", pad=6)
    ax.tick_params(axis="y", pad=5)

fig.text(764 / W, 1 - 1063 / H, "Day 0", ha="center", va="center", fontsize=13.4, color="#1A1A1A")
fig.text(1972 / W, 1 - 1063 / H, "Week 3", ha="center", va="center", fontsize=13.4, color="#1A1A1A")
fig.text(1368 / W, 1 - 1996 / H, "# Sequences in same Change-O (identical) group (log)",
         ha="center", va="center", fontsize=16)
fig.text(49 / W, 1 - 1497 / H, "# Sequences in same mPTP group (log)", rotation=90,
         ha="center", va="center", fontsize=16)

fig.text(13 / W, 1 - 20 / H, "A", ha="left", va="center", fontsize=16)
fig.text(13 / W, 1 - 1011 / H, "B", ha="left", va="center", fontsize=16)

fig.savefig("out.png", dpi=200, facecolor="white")
